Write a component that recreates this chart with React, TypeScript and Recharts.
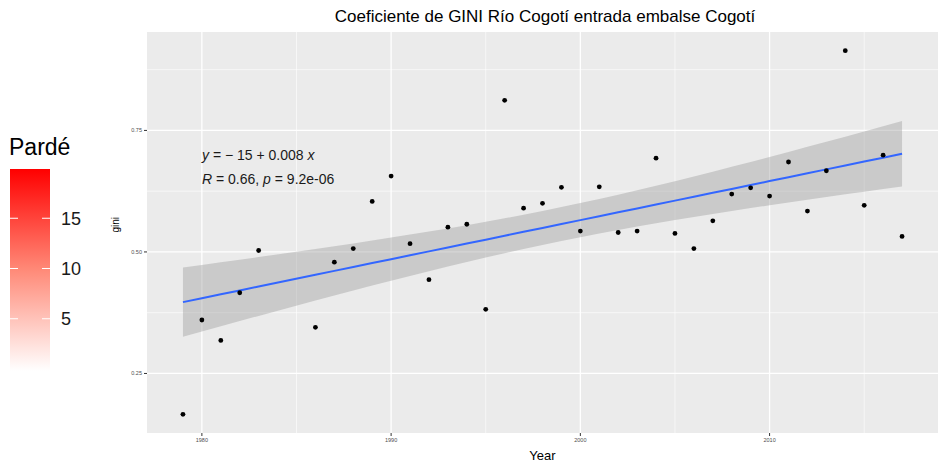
import { ComposedChart, Scatter, Line, Area, XAxis, YAxis, CartesianGrid, Label } from 'recharts';

const years = [
  1979, 1980, 1981, 1982, 1983, 1986, 1987, 1988, 1989, 1990,
  1991, 1992, 1993, 1994, 1995, 1996, 1997, 1998, 1999, 2000,
  2001, 2002, 2003, 2004, 2005, 2006, 2007, 2008, 2009, 2010,
  2011, 2012, 2013, 2014, 2015, 2016, 2017,
];

const gini = [
  0.166, 0.36, 0.318, 0.416, 0.503, 0.345, 0.479, 0.507, 0.604, 0.656,
  0.517, 0.443, 0.551, 0.557, 0.382, 0.812, 0.59, 0.6, 0.633, 0.543,
  0.634, 0.54, 0.543, 0.693, 0.538, 0.507, 0.564, 0.619, 0.632, 0.615,
  0.685, 0.584, 0.667, 0.914, 0.596, 0.699, 0.532,
];

const xTicks = [1980, 1990, 2000, 2010];
const xMinor = [1985, 1995, 2005, 2015];
const yTicks = [0.25, 0.5, 0.75];
const yMinor = [0.375, 0.625, 0.875];
const legendTicks = [5, 10, 15];

// lm fit + 95% band, like geom_smooth(method = "lm")
const T_975 = 2.03; // df = 35
const n = years.length;
const mx = years.reduce((s, v) => s + v, 0) / n;
const my = gini.reduce((s, v) => s + v, 0) / n;
let sxx = 0;
let sxy = 0;
years.forEach((x, i) => {
  sxx += (x - mx) ** 2;
  sxy += (x - mx) * (gini[i] - my);
});
const slope = sxy / sxx;
const intercept = my - slope * mx;
const rss = years.reduce((s, x, i) => s + (gini[i] - (intercept + slope * x)) ** 2, 0);
const sigma = Math.sqrt(rss / (n - 2));

const chartData = years.map((x, i) => {
  const fit = intercept + slope * x;
  const half = T_975 * sigma * Math.sqrt(1 / n + (x - mx) ** 2 / sxx);
  return { year: x, gini: gini[i], fit, ci: [fit - half, fit + half] };
});

const FONT = '"Liberation Sans", Arial, sans-serif';

export default function App() {
  return (
    <div style={{ position: 'absolute', left: 0, top: 0, width: 941, height: 462, background: '#fff', fontFamily: FONT }}>
      <ComposedChart
        width={941}
        height={462}
        data={chartData}
        margin={{ top: 32, right: 3, bottom: 0, left: 107 }}
      >
        <CartesianGrid
          fill="#ebebeb"
          stroke="#ffffff"
          strokeWidth={0.6}
          horizontalValues={yMinor}
          verticalValues={xMinor}
        />
        <CartesianGrid
          stroke="#ffffff"
          strokeWidth={1.3}
          horizontalValues={yTicks}
          verticalValues={xTicks}
        />
        <XAxis
          dataKey="year"
          type="number"
          domain={[1977.1, 2018.9]}
          ticks={xTicks}
          allowDataOverflow
          axisLine={false}
          tickSize={3}
          tickMargin={2}
          height={29}
          tickLine={{ stroke: '#333333' }}
          tick={{ fontSize: 5.5, fill: '#4d4d4d', fontFamily: FONT }}
        >
          <Label value="Year" position="insideBottom" offset={2} fontSize={13} fill="#000" fontFamily={FONT} />
        </XAxis>
        <YAxis
          type="number"
          domain={[0.1275, 0.9525]}
          ticks={yTicks}
          allowDataOverflow
          axisLine={false}
          tickSize={3}
          tickMargin={2}
          width={40}
          tickFormatter={(v: number) => v.toFixed(2)}
          tickLine={{ stroke: '#333333' }}
          tick={{ fontSize: 5.5, fill: '#4d4d4d', fontFamily: FONT }}
        >
          <Label value="gini" angle={-90} position="insideLeft" offset={8} fontSize={10} fill="#000" fontFamily={FONT} />
        </YAxis>
        <Area
          dataKey="ci"
          type="linear"
          stroke="none"
          fill="#999999"
          fillOpacity={0.4}
          isAnimationActive={false}
        />
        <Line
          dataKey="fit"
          type="linear"
          stroke="#3366ff"
          strokeWidth={2}
          dot={false}
          activeDot={false}
          isAnimationActive={false}
        />
        <Scatter
          dataKey="gini"
          fill="#000"
          isAnimationActive={false}
          shape={(p: any) => <circle cx={p.cx} cy={p.cy} r={2.4} fill="#000" />}
        />
      </ComposedChart>

      <svg
        width={941}
        height={462}
        style={{ position: 'absolute', left: 0, top: 0, pointerEvents: 'none' }}
        fontFamily={FONT}
      >
        <text x={545} y={22} fontSize={17} textAnchor="middle" fill="#000">
          Coeficiente de GINI Río Cogotí entrada embalse Cogotí
        </text>

        <text x={202} y={160} fontSize={14} fill="#1a1a1a">
          <tspan fontStyle="italic">y</tspan> = − 15 + 0.008 <tspan fontStyle="italic">x</tspan>
        </text>
        <text x={202} y={184} fontSize={14} fill="#1a1a1a">
          <tspan fontStyle="italic">R</tspan> = 0.66, <tspan fontStyle="italic">p</tspan> = 9.2e-06
        </text>

        <defs>
          <linearGradient id="pardeGrad" x1="0" y1="0" x2="0" y2="1">
            <stop offset="0%" stopColor="#ff0000" />
            <stop offset="50%" stopColor="#ff8a78" />
            <stop offset="100%" stopColor="#ffffff" />
          </linearGradient>
        </defs>
        <text x={9} y={155} fontSize={23} fill="#000">Pardé</text>
        <rect x={10} y={169} width={40} height={202} fill="url(#pardeGrad)" />
        {legendTicks.map((t) => {
          const y = 369 - t * 10.05;
          return (
            <g key={t}>
              <line x1={10} x2={18} y1={y} y2={y} stroke="#fff" strokeWidth={1} />
              <line x1={42} x2={50} y1={y} y2={y} stroke="#fff" strokeWidth={1} />
              <text x={61} y={y + 6.5} fontSize={18} fill="#1a1a1a">{t}</text>
            </g>
          );
        })}
      </svg>
    </div>
  );
}
